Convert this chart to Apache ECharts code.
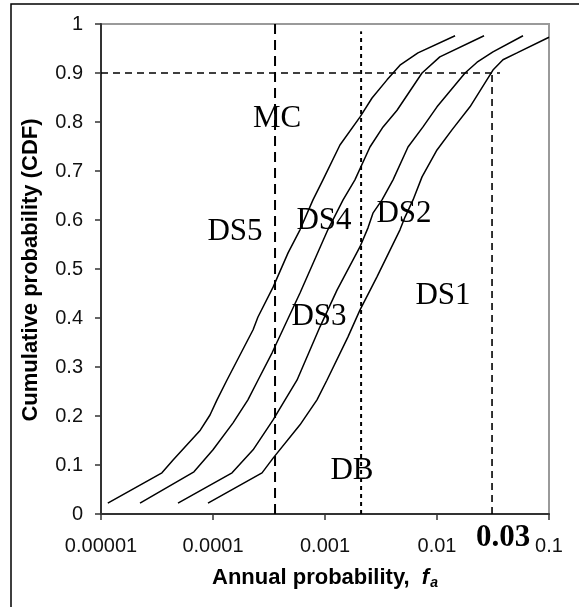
<!DOCTYPE html>
<html><head><meta charset="utf-8">
<script src="https://cdn.jsdelivr.net/npm/echarts@6/dist/echarts.min.js"></script>
<style>html,body{margin:0;padding:0;background:#fff}#c{width:579px;height:607px}</style>
</head><body><div id="c"></div>
<script>
// Axis ticks
const xTickLabels = ['0.00001', '0.0001', '0.001', '0.01', '0.1'];
const yTickLabels = ['0', '0.1', '0.2', '0.3', '0.4', '0.5', '0.6', '0.7', '0.8', '0.9', '1'];

// Curve DS5 (leftmost)
const ds5X = [1.15e-5, 3.5e-5, 4.4e-5, 7.7e-5, 9.4e-5, 1.086e-4, 1.33e-4, 2.28e-4, 2.52e-4, 3.44e-4, 4.68e-4, 5.98e-4, 7.81e-4, 9.59e-4, 1.36e-3, 2.05e-3, 2.63e-3, 3.58e-3, 4.67e-3, 6.76e-3, 1.45e-2];
const ds5Y = [0.022, 0.084, 0.110, 0.171, 0.202, 0.233, 0.273, 0.376, 0.402, 0.463, 0.533, 0.580, 0.641, 0.682, 0.753, 0.810, 0.849, 0.886, 0.916, 0.941, 0.976];
// Curve DS4
const ds4X = [2.23e-5, 6.76e-5, 1.0e-4, 1.51e-4, 2.05e-4, 2.52e-4, 3.37e-4, 5.98e-4, 1.06e-3, 1.45e-3, 1.85e-3, 2.52e-3, 3.30e-3, 4.40e-3, 7.35e-3, 1.06e-2, 2.63e-2];
const ds4Y = [0.022, 0.086, 0.131, 0.186, 0.233, 0.273, 0.329, 0.451, 0.580, 0.641, 0.682, 0.749, 0.790, 0.824, 0.900, 0.933, 0.976];
// Curve DS3
const ds3X = [4.87e-5, 1.48e-4, 2.28e-4, 3.44e-4, 4.40e-4, 5.62e-4, 9.02e-4, 1.28e-3, 2.05e-3, 2.42e-3, 2.68e-3, 3.23e-3, 4.05e-3, 5.51e-3, 7.50e-3, 1.0e-2, 1.78e-2, 2.28e-2, 3.16e-2, 5.86e-2];
const ds3Y = [0.022, 0.084, 0.131, 0.192, 0.233, 0.273, 0.382, 0.457, 0.545, 0.584, 0.614, 0.641, 0.682, 0.749, 0.790, 0.831, 0.900, 0.922, 0.943, 0.976];
// Curve DS2 (rightmost)
const ds2X = [9.02e-5, 2.74e-4, 3.44e-4, 5.98e-4, 8.48e-4, 1.04e-3, 1.60e-3, 2.05e-3, 2.91e-3, 4.67e-3, 5.18e-3, 6.11e-3, 7.35e-3, 1.0e-2, 1.36e-2, 1.97e-2, 3.16e-2, 3.88e-2, 5.18e-2, 0.1];
const ds2Y = [0.022, 0.084, 0.114, 0.182, 0.233, 0.273, 0.361, 0.416, 0.484, 0.580, 0.606, 0.641, 0.688, 0.743, 0.784, 0.831, 0.906, 0.927, 0.941, 0.973];

// Reference lines
const mcX = 3.58e-4;      // MC vertical line
const dbX = 2.1e-3;       // DB vertical line
const targetX = 0.031;    // vertical line at 0.03
const targetY = 0.9;      // horizontal line at 0.9
const targetXEnd = 0.0365;

const zip = (xs, ys) => xs.map((x, i) => [x, ys[i]]);

const chart = echarts.init(document.getElementById('c'), null, {renderer: 'canvas'});

const curve = (name, xs, ys) => ({
  name, type: 'line', data: zip(xs, ys), showSymbol: false, symbol: 'none',
  lineStyle: {color: '#000', width: 1.5}, z: 5, silent: true, animation: false
});
const ref = (name, pts, width, dash) => ({
  name, type: 'line', data: pts, showSymbol: false, symbol: 'none',
  lineStyle: {color: '#000', width, type: dash}, z: 4, silent: true, animation: false
});

const serif = '"Liberation Serif", "Times New Roman", serif';
const sans = '"Liberation Sans", Arial, sans-serif';
const lbl = (text, x, y, bold) => ({
  type: 'text', x, y, z: 10,
  style: {text, fill: '#000', font: (bold ? 'bold ' : '') + '31px ' + serif, textAlign: 'center', textVerticalAlign: 'middle'}
});

chart.setOption({
  animation: false,
  backgroundColor: '#fff',
  grid: {left: 101, top: 24, right: 30, bottom: 93, show: true, borderColor: '#9a9a9a', borderWidth: 2, backgroundColor: 'transparent'},
  xAxis: {
    type: 'log', logBase: 10, min: 0.00001, max: 0.1,
    axisLine: {show: true, onZero: false, lineStyle: {color: '#333', width: 2}},
    axisTick: {show: true, inside: false, length: 6, lineStyle: {color: '#333', width: 1.5}},
    minorTick: {show: false},
    splitLine: {show: false},
    axisLabel: {
      color: '#111', fontFamily: sans, fontSize: 20, margin: 22,
      formatter: v => xTickLabels[Math.round(Math.log10(v)) + 5]
    }
  },
  yAxis: {
    type: 'value', min: 0, max: 1, interval: 0.1,
    axisLine: {show: true, lineStyle: {color: '#333', width: 2}},
    axisTick: {show: true, inside: false, length: 6, lineStyle: {color: '#333', width: 1.5}},
    splitLine: {show: false},
    axisLabel: {
      color: '#111', fontFamily: sans, fontSize: 20, margin: 18,
      formatter: v => yTickLabels[Math.round(v * 10)]
    }
  },
  series: [
    curve('DS5', ds5X, ds5Y),
    curve('DS4', ds4X, ds4Y),
    curve('DS3', ds3X, ds3Y),
    curve('DS2', ds2X, ds2Y),
    ref('MC', [[mcX, 0], [mcX, 1]], 2, [10, 6]),
    ref('DB', [[dbX, 0], [dbX, 0.985]], 2, [4, 4]),
    ref('H90', [[0.00001, targetY], [targetXEnd, targetY]], 1.6, [7, 5]),
    ref('V03', [[targetX, 0], [targetX, targetY]], 1.6, [7, 5])
  ],
  graphic: [
    {type: 'rect', z: 0, shape: {x: 11, y: 4, width: 700, height: 700}, style: {fill: 'none', stroke: '#000', lineWidth: 1.5}},
    lbl('MC', 277, 119),
    lbl('DS5', 235, 232),
    lbl('DS4', 324, 221),
    lbl('DS2', 404, 214),
    lbl('DS3', 319, 317),
    lbl('DS1', 443, 296),
    lbl('DB', 352, 471),
    lbl('0.03', 503, 538, true),
    {type: 'text', x: 325, y: 578, z: 10, style: {
      text: '{b|Annual probability,  }{f|f}{s|a}', textAlign: 'center', textVerticalAlign: 'middle',
      rich: {
        b: {font: 'bold 22px ' + sans, fill: '#000'},
        f: {font: 'italic bold 22px ' + sans, fill: '#000'},
        s: {font: 'italic bold 14px ' + sans, fill: '#000', padding: [11, 0, 0, 1]}
      }
    }},
    {type: 'text', x: 31, y: 270, rotation: Math.PI / 2, z: 10, style: {
      text: 'Cumulative probability (CDF)', font: 'bold 22px ' + sans, fill: '#000', textAlign: 'center', textVerticalAlign: 'middle'
    }}
  ]
});
</script>
</body></html>
